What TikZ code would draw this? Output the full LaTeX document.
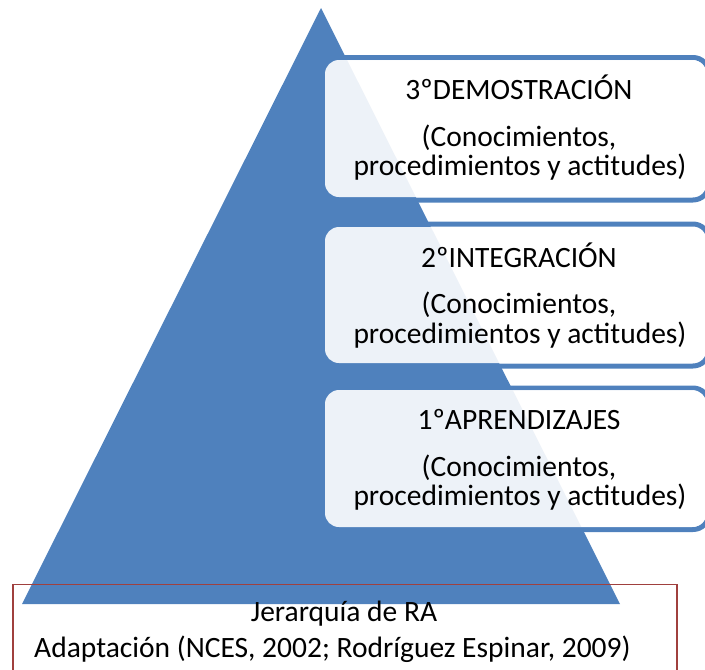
\documentclass[tikz,border=0pt]{standalone}
\usepackage{fontspec}
\setmainfont{Carlito}
\definecolor{pyrblue}{RGB}{79,129,189}
\definecolor{framered}{RGB}{160,64,62}
\begin{document}
\begin{tikzpicture}[x=1pt,y=-1pt,
  outline/.style={draw=pyrblue,line width=5pt,rounded corners=16pt},
  boxfill/.style={fill=white,fill opacity=0.9,rounded corners=14pt},
  txt/.style={anchor=base,inner sep=0pt,font=\fontsize{29.5}{35}\selectfont},
  redframe/.style={draw=framered,line width=1.5pt}]
\useasboundingbox (0,0) rectangle (705,670);
\clip (0,0) rectangle (705,670);
% pyramid
\fill[pyrblue] (321,8) -- (620,604) -- (22,604) -- cycle;
% box outlines
\draw[outline] (322,57.5) rectangle (709,200);
\draw[outline] (322,224) rectangle (709,366);
\draw[outline] (322,388) rectangle (709,529.5);
% box fills
\path[boxfill] (325,60) rectangle (706,197);
\path[boxfill] (325,227) rectangle (706,363);
\path[boxfill] (325,390) rectangle (706,527);
\node (b3) at (515.5,128.5) {};
\node (b2) at (515.5,295) {};
\node (b1) at (515.5,458.5) {};
% texts
\node[txt] (t3a) at (519,99) {3ºDEMOSTRACIÓN};
\node[txt] (t3b) at (519,146) {(Conocimientos,};
\node[txt] (t3c) at (520,175) {procedimientos y actitudes)};
\node[txt] (t2a) at (519,267) {2ºINTEGRACIÓN};
\node[txt] (t2b) at (519,313) {(Conocimientos,};
\node[txt] (t2c) at (520,343) {procedimientos y actitudes)};
\node[txt] (t1a) at (519,429) {1ºAPRENDIZAJES};
\node[txt] (t1b) at (519,476) {(Conocimientos,};
\node[txt] (t1c) at (520,505) {procedimientos y actitudes)};
% bottom frame
\draw[redframe] (13,584.5) rectangle (677,690);
\node[txt] (ja) at (344,621) {Jerarquía de RA};
\node[txt,anchor=base west] (jb) at (34,657) {Adaptación (NCES, 2002; Rodríguez Espinar, 2009)};
\end{tikzpicture}
\end{document}
